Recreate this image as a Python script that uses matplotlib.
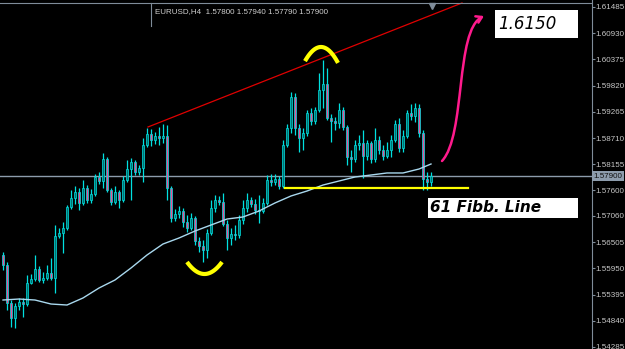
import numpy as np
import matplotlib
matplotlib.use('Agg')
import matplotlib.pyplot as plt
import matplotlib.transforms as mtransforms
from matplotlib.patches import Rectangle, FancyArrowPatch
from matplotlib.path import Path

# EURUSD H4 candles
first_open = 1.56233
closes = [1.56022, 1.55217, 1.54899, 1.55153, 1.55238, 1.55195, 1.55640, 1.55725, 1.55937, 1.55704,
          1.55746, 1.55852, 1.55746, 1.56635, 1.56699, 1.56805, 1.57250, 1.57440, 1.57567, 1.57335,
          1.57652, 1.57398, 1.57525, 1.57885, 1.57800, 1.58266, 1.57610, 1.57356, 1.57567, 1.57398,
          1.57821, 1.58054, 1.58202, 1.57991, 1.58075, 1.58562, 1.58795, 1.58668, 1.58753, 1.58711,
          1.58753, 1.57652, 1.57017, 1.57101, 1.57165, 1.56932, 1.56805, 1.57017, 1.56529, 1.56423,
          1.56339, 1.56699, 1.57229, 1.57398, 1.57356, 1.56889, 1.56593, 1.56677, 1.56656, 1.56974,
          1.57229, 1.57398, 1.57313, 1.57186, 1.57165, 1.57335, 1.57821, 1.57779, 1.57842, 1.57694,
          1.58562, 1.58922, 1.59579, 1.58922, 1.58711, 1.58817, 1.59240, 1.59071, 1.59304, 1.59727,
          1.59854, 1.59134, 1.59071, 1.59028, 1.59304, 1.58944, 1.58308, 1.58266, 1.58562, 1.58605,
          1.58330, 1.58605, 1.58266, 1.58668, 1.58457, 1.58330, 1.58457, 1.58668, 1.59007, 1.58499,
          1.58753, 1.59240, 1.59177, 1.59346, 1.58817, 1.57842, 1.57779, 1.57900]
highs = [1.56297, 1.56085, 1.55280, 1.55217, 1.55323, 1.55323, 1.55810, 1.55831, 1.56233, 1.56000,
         1.55873, 1.56022, 1.56170, 1.56868, 1.56805, 1.56932, 1.57292, 1.57610, 1.57694, 1.57652,
         1.57821, 1.57715, 1.57631, 1.57948, 1.57991, 1.58393, 1.58308, 1.57652, 1.57694, 1.57610,
         1.57906, 1.58245, 1.58287, 1.58245, 1.58139, 1.58711, 1.58922, 1.58901, 1.58838, 1.58944,
         1.59007, 1.58986, 1.57694, 1.57207, 1.57271, 1.57229, 1.57080, 1.57123, 1.57059, 1.56614,
         1.56550, 1.56783, 1.57398, 1.57504, 1.57483, 1.57546, 1.56974, 1.56805, 1.56868, 1.57080,
         1.57398, 1.57546, 1.57461, 1.57419, 1.57504, 1.57440, 1.57927, 1.57948, 1.57948, 1.57906,
         1.58668, 1.59007, 1.59685, 1.59664, 1.59007, 1.58922, 1.59304, 1.59346, 1.59367, 1.60087,
         1.60362, 1.60193, 1.59219, 1.59155, 1.59452, 1.59367, 1.58986, 1.58457, 1.58668, 1.58774,
         1.58880, 1.58668, 1.58647, 1.58922, 1.58753, 1.58562, 1.58626, 1.58774, 1.59092, 1.59134,
         1.58880, 1.59304, 1.59431, 1.59452, 1.59431, 1.58880, 1.57991, 1.57991]
lows = [1.55916, 1.55068, 1.54708, 1.54687, 1.55068, 1.54920, 1.55153, 1.55619, 1.55683, 1.55661,
        1.55640, 1.55704, 1.55704, 1.55428, 1.56593, 1.56276, 1.56762, 1.57207, 1.57313, 1.57186,
        1.57292, 1.57335, 1.57335, 1.57483, 1.57737, 1.57652, 1.57567, 1.57292, 1.57313, 1.57229,
        1.57356, 1.57779, 1.57398, 1.57927, 1.57927, 1.57779, 1.58520, 1.58541, 1.58584, 1.58562,
        1.58605, 1.57398, 1.56932, 1.56953, 1.57017, 1.56826, 1.56720, 1.56762, 1.56444, 1.56297,
        1.56085, 1.56170, 1.56656, 1.57144, 1.57292, 1.56847, 1.56339, 1.56444, 1.56550, 1.56593,
        1.56889, 1.57144, 1.57250, 1.57101, 1.56911, 1.57123, 1.57292, 1.57694, 1.57715, 1.57631,
        1.57652, 1.58520, 1.58817, 1.58774, 1.58414, 1.58457, 1.58753, 1.58986, 1.59007, 1.59261,
        1.59346, 1.59092, 1.58626, 1.58880, 1.58922, 1.58880, 1.58139, 1.57991, 1.58202, 1.58457,
        1.57864, 1.58245, 1.58181, 1.58202, 1.58372, 1.58245, 1.58287, 1.58308, 1.58626, 1.58414,
        1.58414, 1.58711, 1.59092, 1.59050, 1.58732, 1.57610, 1.57610, 1.57694]

# moving average line (candle index, value)
ma_idx = [0, 4, 8, 12, 16, 20, 24, 28, 32, 36, 40, 44, 48, 52, 56, 60, 64, 68, 72, 76,
          80, 84, 88, 92, 96, 100, 104, 107]
ma_vals = [1.55280, 1.55301, 1.55280, 1.55195, 1.55174, 1.55323, 1.55534, 1.55704, 1.55958, 1.56233,
           1.56466, 1.56593, 1.56741, 1.56868, 1.56995, 1.57038, 1.57165, 1.57335, 1.57483, 1.57588,
           1.57715, 1.57800, 1.57885, 1.57927, 1.57970, 1.57970, 1.58054, 1.58160]

trend_x = [36.25, 114.75]
trend_y = [1.58944, 1.61570]
fib_level = 1.57652
fib_span = [70.5, 116.25]
last_price = 1.57900

price_ticks = [1.61485, 1.60930, 1.60375, 1.59820, 1.59265, 1.58710, 1.58155,
               1.57600, 1.57060, 1.56505, 1.55950, 1.55395, 1.54840, 1.54285]
title = 'EURUSD,H4  1.57800 1.57940 1.57790 1.57900'

W, H = 625, 349
small_font = ['Liberation Sans', 'DejaVu Sans']
gray = '#7f8c99'

fig = plt.figure(figsize=(W / 100, H / 100), dpi=100, facecolor='black')
ax = fig.add_axes([0, 0, 592 / W, 1])
ax.set_facecolor('black')

closes = np.array(closes)
highs = np.array(highs)
lows = np.array(lows)
opens = np.array([first_open] + list(closes[:-1]))
idx = np.arange(len(closes))
up = closes >= opens

wick = '#00e0e0'
ax.vlines(idx, lows, highs, color=wick, lw=0.9, zorder=2)
ax.bar(idx, np.maximum(np.abs(closes - opens), 0.00004), bottom=np.minimum(opens, closes),
       width=0.72, color=np.where(up, '#007272', '#e8509a'), edgecolor=wick,
       linewidth=0.5, zorder=3)

ax.plot(ma_idx, ma_vals, color='#a9d8ee', lw=1.0, zorder=4)
ax.axhline(last_price, color='#8d9cac', lw=1.0, zorder=1)
ax.plot(trend_x, trend_y, color='#e00000', lw=0.9, zorder=4)
ax.plot(fib_span, [fib_level, fib_level], color='#ffff00', lw=1.6, zorder=4)

ax.set_xlim(-0.75, -0.75 + 592 / 4)
ax.set_ylim(1.61633 - 0.00021176 * H, 1.61633)

ax.yaxis.tick_right()
ax.set_yticks(price_ticks)
ax.set_yticklabels([f'{p:.5f}' for p in price_ticks])
ax.tick_params(axis='y', length=2.2, width=0.8, color=gray, labelcolor='#c8c8c8',
               labelsize=5.8, pad=0.6)
for lab in ax.get_yticklabels():
    lab.set_family(small_font)
ax.set_xticks([])
for s in ['left', 'top', 'bottom']:
    ax.spines[s].set_visible(False)
ax.spines['right'].set_color(gray)
ax.spines['right'].set_linewidth(0.8)

blend = mtransforms.blended_transform_factory(ax.transAxes, ax.transData)
ax.text(1 + 1.5 / 592, last_price, f'{last_price:.5f}', transform=blend, ha='left', va='center',
        fontsize=5.8, family=small_font, color='#101010',
        bbox=dict(boxstyle='square,pad=0.2', fc='#8d9cac', ec='none'), clip_on=False)

# top border, title box and shift marker
def fx(x):
    return np.asarray(x, dtype=float) / W

def fy(y):
    return 1 - np.asarray(y, dtype=float) / H

ax.axhline(1.61633 - 0.00021176 * 3, color=gray, lw=0.8, zorder=5)
fig.add_artist(plt.Line2D(fx([151, 151]), fy([3, 26]), color=gray, lw=0.8))
fig.text(fx(155), fy(12), title, color='#d0d0d0', fontsize=5.8, family=small_font,
         ha='left', va='center')
ax.plot([len(closes) - 0.75], [1.61633 - 0.00021176 * 6], marker='v', color=gray,
        markersize=4, zorder=6, clip_on=False)

# hand drawn marks
tx = np.linspace(305, 338, 40)
fig.add_artist(plt.Line2D(fx(tx), fy(47 + 15 * ((tx - 321) / 16.5) ** 2),
                          color='#ffff00', lw=3, solid_capstyle='butt'))
bx = np.linspace(187, 222, 40)
fig.add_artist(plt.Line2D(fx(bx), fy(274 - 12 * ((bx - 204.5) / 17.5) ** 2),
                          color='#ffff00', lw=3, solid_capstyle='butt'))

verts = list(zip(fx([442, 466, 455, 484]), fy([161, 135, 30, 16])))
arrow = FancyArrowPatch(path=Path(verts, [Path.MOVETO, Path.CURVE4, Path.CURVE4, Path.CURVE4]),
                        arrowstyle='->,head_length=4,head_width=2.5', color='#ff1a8c', lw=1.8,
                        transform=fig.transFigure)
fig.add_artist(arrow)

fig.add_artist(Rectangle((fx(495), fy(38)), fx(578) - fx(495), fy(10) - fy(38),
                         transform=fig.transFigure, fc='white', ec='none'))
fig.text(fx(498), fy(24), '1.6150', fontsize=12, style='italic', color='black',
         ha='left', va='center')
fig.add_artist(Rectangle((fx(428), fy(218)), fx(578) - fx(428), fy(198) - fy(218),
                         transform=fig.transFigure, fc='white', ec='none'))
fig.text(fx(430), fy(208), '61 Fibb. Line', fontsize=11, style='italic', weight='bold',
         color='black', ha='left', va='center')

fig.savefig('out.png', dpi=100, facecolor='black')
